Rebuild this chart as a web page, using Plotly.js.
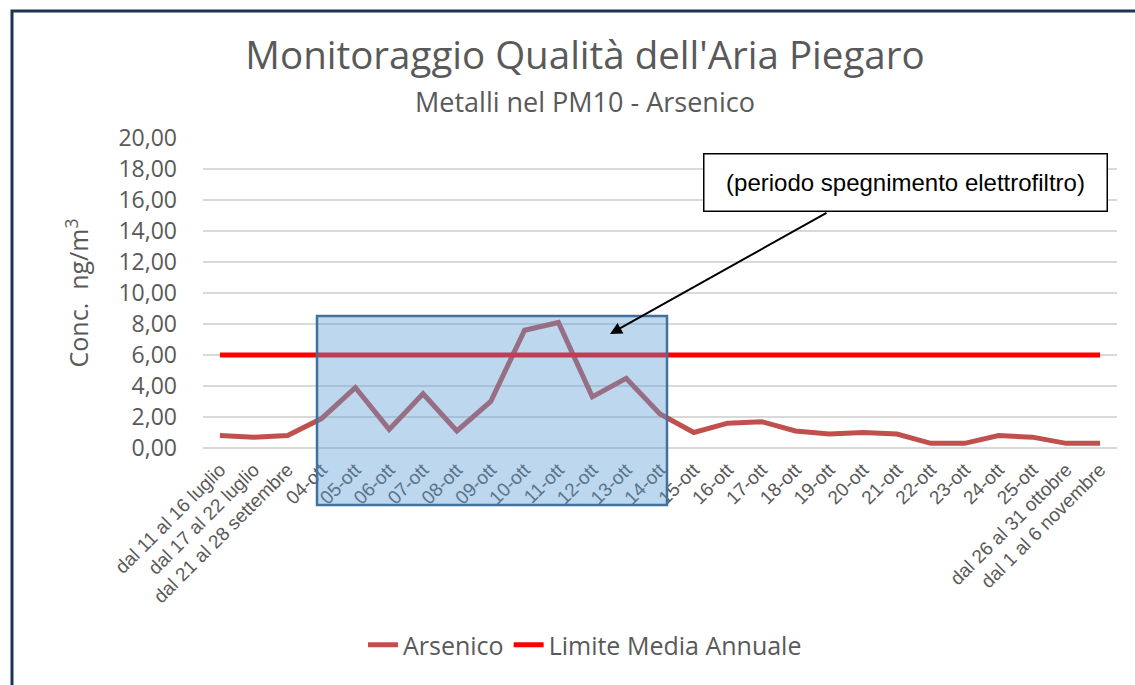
<!DOCTYPE html>
<html>
<head>
<meta charset="utf-8">
<script src="https://cdn.plot.ly/plotly-3.0.1.min.js"></script>
<style>html,body{margin:0;padding:0;background:#fff;}#chart{width:1135px;height:685px;}</style>
</head>
<body>
<div id="chart"></div>
<script>
const categories = [
  "dal 11 al 16 luglio", "dal 17 al 22 luglio", "dal 21 al 28 settembre",
  "04-ott", "05-ott", "06-ott", "07-ott", "08-ott", "09-ott", "10-ott", "11-ott",
  "12-ott", "13-ott", "14-ott", "15-ott", "16-ott", "17-ott", "18-ott", "19-ott",
  "20-ott", "21-ott", "22-ott", "23-ott", "24-ott", "25-ott",
  "dal 26 al 31 ottobre", "dal 1 al 6 novembre"
];
const arsenico = [0.8, 0.7, 0.8, 1.9, 3.9, 1.2, 3.5, 1.1, 3.0, 7.6, 8.1,
  3.3, 4.5, 2.2, 1.0, 1.6, 1.7, 1.1, 0.9, 1.0, 0.9, 0.3, 0.3, 0.8, 0.7, 0.3, 0.3];
const limiteMediaAnnuale = [6, 6, 6, 6, 6, 6, 6, 6, 6, 6, 6, 6, 6, 6, 6, 6, 6, 6,
  6, 6, 6, 6, 6, 6, 6, 6, 6];
const yTicks = [0, 2, 4, 6, 8, 10, 12, 14, 16, 18, 20];

const grey = "#595959";
const sans = "Open Sans, Noto Sans, sans-serif";
const arial = "Liberation Sans, Arial, sans-serif";

// pixel -> paper helpers (plot area 203..1117 x 138..448)
const L = 203, R = 1117, T = 138, B = 448;
const px = v => (v - L) / (R - L);
const py = v => (B - v) / (B - T);

const traces = [
  {x: categories, y: arsenico, name: "Arsenico", type: "scatter", mode: "lines",
   line: {color: "#C0504D", width: 5, shape: "linear"}},
  {x: categories, y: limiteMediaAnnuale, name: "Limite Media Annuale", type: "scatter", mode: "lines",
   line: {color: "#FF0000", width: 5}}
];

const layout = {
  width: 1135, height: 685,
  margin: {l: L, r: 1135 - R, t: T, b: 685 - B},
  paper_bgcolor: "#ffffff", plot_bgcolor: "#ffffff",
  separators: ",.",
  title: {text: "Monitoraggio Qualità dell'Aria Piegaro", xref: "container", x: 585 / 1135,
          xanchor: "center", yref: "container", y: 1 - 56 / 685, yanchor: "middle",
          font: {family: sans, size: 38.5, color: grey}},
  xaxis: {type: "category", range: [-0.5, categories.length - 0.5], tickangle: -45,
          tickfont: {family: arial, size: 19, color: grey}, showgrid: false,
          showline: false, ticks: "", zeroline: false, automargin: false, ticklabelstandoff: 6},
  yaxis: {range: [0, 20], tickvals: yTicks, tickformat: ".2f",
          tickfont: {family: sans, size: 23, color: grey}, gridcolor: "#D9D9D9", gridwidth: 1.5,
          zeroline: true, zerolinecolor: "#D9D9D9", zerolinewidth: 2,
          ticks: "", ticklabelstandoff: 25, automargin: false,
          title: {text: "Conc.  ng/m<sup>3</sup>", font: {family: sans, size: 25, color: grey}, standoff: 22}},
  showlegend: true,
  legend: {orientation: "h", x: px(585), xanchor: "center", y: py(645), yanchor: "middle",
           font: {family: sans, size: 25, color: grey}, bgcolor: "rgba(0,0,0,0)"},
  shapes: [
    {type: "rect", xref: "paper", yref: "paper", x0: px(317), x1: px(667), y0: py(505), y1: py(316),
     fillcolor: "rgba(91,155,213,0.4)", line: {color: "#41719C", width: 2.5}, layer: "above"},
    {type: "rect", xref: "paper", yref: "paper", x0: px(12), x1: px(1145), y0: py(695), y1: py(11),
     fillcolor: "rgba(0,0,0,0)", line: {color: "#1F3450", width: 3}, layer: "above"}
  ],
  annotations: [
    {text: "Metalli nel PM10 - Arsenico", xref: "paper", yref: "paper", x: px(585), y: py(101),
     xanchor: "center", yanchor: "middle", showarrow: false, font: {family: sans, size: 27, color: grey}},
    {text: "(periodo spegnimento elettrofiltro)", xref: "paper", yref: "paper", x: px(905), y: py(182),
     xanchor: "center", yanchor: "middle", showarrow: false, width: 402, height: 56, borderpad: 0,
     bordercolor: "#000000", borderwidth: 1.5, bgcolor: "#ffffff",
     font: {family: arial, size: 24, color: "#000000"}},
    {text: "", xref: "paper", yref: "paper", x: px(610), y: py(334), showarrow: true,
     ax: 828 - 610, ay: 212 - 334, arrowhead: 2, arrowsize: 1.2, arrowwidth: 2,
     arrowcolor: "#000000", standoff: 0, startstandoff: 0}
  ]
};

Plotly.newPlot("chart", traces, layout, {displayModeBar: false, staticPlot: true});
</script>
</body>
</html>
